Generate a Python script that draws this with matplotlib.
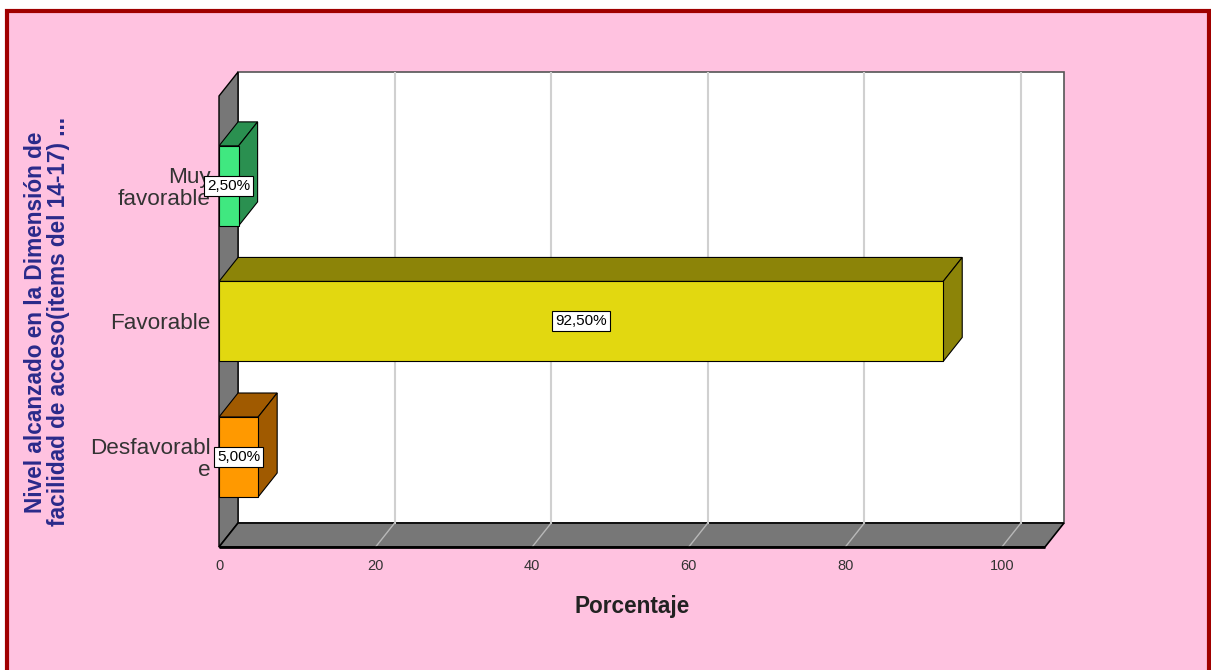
import matplotlib
matplotlib.use("Agg")
import matplotlib.pyplot as plt
from matplotlib.patches import Polygon, Rectangle

plt.rcParams['font.family'] = ['Liberation Sans', 'DejaVu Sans']

categorias = ["Desfavorabl\ne", "Favorable", "Muy\nfavorable"]
porcentajes = [5.00, 92.50, 2.50]
etiquetas = ["5,00%", "92,50%", "2,50%"]
ticks_x = [0, 20, 40, 60, 80, 100]
colores_frente = ["#FF9900", "#E2D810", "#40E880"]
colores_lado = ["#A05A00", "#8C8408", "#2A9050"]

# geometria del grafico (unidades de datos)
dx, dy = 2.43, 0.177      # profundidad 3D
h = 0.295                 # media altura de barra
x_front_max = 105.5
y_min, y_top = -0.664, 2.84
wall = "#777777"

fig = plt.figure(figsize=(12.11, 6.70), dpi=100)
fig.patch.set_facecolor("white")
fig.patches.append(Rectangle((7 / 1211, -0.02), 1202 / 1211, 1 - 11 / 670 + 0.02,
                             transform=fig.transFigure, facecolor="#FFC2E0",
                             edgecolor="#A00000", linewidth=3, zorder=-1))

ax = fig.add_axes([219 / 1211, 123 / 670, 845 / 1211, 475 / 670])
ax.set_zorder(1)
ax.set_xlim(0, x_front_max + dx)
ax.set_ylim(y_min, y_top)
ax.patch.set_alpha(0)
for s in ax.spines.values():
    s.set_visible(False)

# pared del fondo
ax.add_patch(Polygon([(dx, y_min + dy), (x_front_max + dx, y_min + dy),
                      (x_front_max + dx, y_top), (dx, y_top)],
                     closed=True, facecolor="white", edgecolor="#555555", lw=1.2,
                     zorder=1, clip_on=False))
# pared izquierda
ax.add_patch(Polygon([(0, y_min), (0, y_top - dy), (dx, y_top), (dx, y_min + dy)],
                     closed=True, facecolor=wall, edgecolor="black", lw=1, zorder=1,
                     clip_on=False))
# suelo
ax.add_patch(Polygon([(0, y_min), (x_front_max, y_min), (x_front_max + dx, y_min + dy),
                      (dx, y_min + dy)],
                     closed=True, facecolor=wall, edgecolor="black", lw=1.2, zorder=1,
                     clip_on=False))
ax.plot([0, x_front_max], [y_min, y_min], color="black", lw=2, zorder=2,
        solid_capstyle="butt", clip_on=False)

# lineas de cuadricula
for t in ticks_x[1:]:
    ax.plot([t + dx, t + dx], [y_min + dy, y_top], color="#D0D0D0", lw=1.5, zorder=1.5)
    ax.plot([t, t + dx], [y_min, y_min + dy], color="#B8B8B8", lw=1, zorder=1.5)

# barras 3D
for i, (v, cf, cl) in enumerate(zip(porcentajes, colores_frente, colores_lado)):
    y = i
    top = [(0, y + h), (v, y + h), (v + dx, y + h + dy), (dx, y + h + dy)]
    side = [(v, y - h), (v + dx, y - h + dy), (v + dx, y + h + dy), (v, y + h)]
    front = [(0, y - h), (v, y - h), (v, y + h), (0, y + h)]
    for pts, c in ((top, cl), (side, cl), (front, cf)):
        ax.add_patch(Polygon(pts, closed=True, facecolor=c, edgecolor="black",
                             lw=0.8, zorder=3))
    ax.text(v / 2, y, etiquetas[i], ha="center", va="center", fontsize=11,
            color="black", zorder=6,
            bbox=dict(boxstyle="square,pad=0.2", facecolor="white",
                      edgecolor="black", lw=0.8))

ax.set_xticks(ticks_x)
ax.set_xticklabels([str(t) for t in ticks_x], fontsize=10.5, color="#333333")
ax.set_yticks(range(len(categorias)))
ax.set_yticklabels(categorias, fontsize=16.2, color="#333333", linespacing=1.05)
ax.tick_params(axis="both", length=0)
ax.tick_params(axis="x", pad=9)
ax.tick_params(axis="y", pad=6)

fig.text(632 / 1211, 1 - 607 / 670, "Porcentaje", ha="center", va="center",
         fontsize=16.3, fontweight="bold", color="#222222")
fig.text(47 / 1211, 1 - 322 / 670,
         "Nivel alcanzado en la Dimensión de\nfacilidad de acceso(items del 14-17) ...",
         rotation=90, ha="center", va="center", multialignment="center",
         fontsize=16.3, fontweight="bold", color="#2A2A8A", linespacing=1.0)

fig.savefig("out.png", dpi=100)
